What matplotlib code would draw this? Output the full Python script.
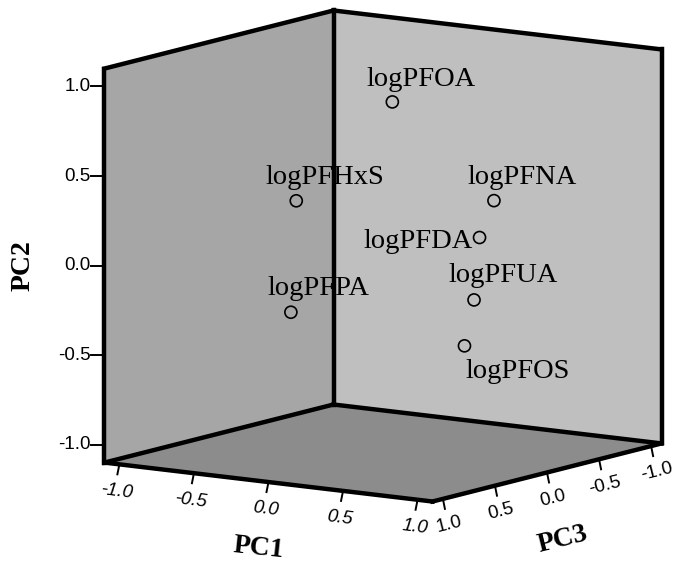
import numpy as np
import matplotlib
matplotlib.use("Agg")
import matplotlib.pyplot as plt
from matplotlib.patches import Polygon

# loadings (PC1, PC2, PC3)
variables = ["logPFOA", "logPFNA", "logPFDA", "logPFUA", "logPFOS", "logPFHxS", "logPFPA"]
pc1 = [0.30, 0.80, 0.85, 0.82, 0.70, -0.10, -0.15]
pc2 = [0.94, 0.40, 0.23, -0.12, -0.40, 0.40, -0.23]
pc3 = [0.34, 0.08, 0.29, 0.30, 0.22, 0.69, 0.67]

ticks = [-1.0, -0.5, 0.0, 0.5, 1.0]
tick_labels = ["-1.0", "-0.5", "0.0", "0.5", "1.0"]
axis_range = 1.1

# oblique view of the cube, in pixel units
ORIGIN = np.array([383.0, 256.0])
E1 = np.array([149.1, 17.7])     # PC1 direction
E2 = np.array([0.0, -179.1])     # PC2 direction
E3 = np.array([-104.1, 26.4])    # PC3 direction


def proj(a, b, c):
    p = ORIGIN + np.multiply.outer(a, E1) + np.multiply.outer(b, E2) + np.multiply.outer(c, E3)
    return p[..., 0], p[..., 1]


def pt(a, b, c):
    x, y = proj(a, b, c)
    return (float(x), float(y))


fig = plt.figure(figsize=(6.75, 5.67), dpi=100)
ax = fig.add_axes([0, 0, 1, 1])
ax.set_xlim(0, 675)
ax.set_ylim(567, 0)
ax.axis("off")

r = axis_range
left_top, left_bot = pt(-r, r, r), pt(-r, -r, r)
back_top, back_bot = pt(-r, r, -r), pt(-r, -r, -r)
right_top, right_bot = pt(r, r, -r), pt(r, -r, -r)
front_bot = pt(r, -r, r)

# walls and floor
ax.add_patch(Polygon([left_top, back_top, back_bot, left_bot], closed=True,
                     facecolor="#a6a6a6", edgecolor="none", zorder=1))
ax.add_patch(Polygon([back_top, right_top, right_bot, back_bot], closed=True,
                     facecolor="#bfbfbf", edgecolor="none", zorder=1))
ax.add_patch(Polygon([left_bot, back_bot, right_bot, front_bot], closed=True,
                     facecolor="#8c8c8c", edgecolor="none", zorder=1))

edges = [
    (left_top, back_top), (back_top, right_top),
    (left_top, left_bot), (back_top, back_bot), (right_top, right_bot),
    (left_bot, back_bot), (back_bot, right_bot),
    (left_bot, front_bot), (front_bot, right_bot),
]
for p, q in edges:
    ax.plot([p[0], q[0]], [p[1], q[1]], color="black", lw=3.2,
            solid_capstyle="projecting", zorder=3)

tick_font = dict(family="Liberation Sans", fontsize=13.5, color="black")

# PC2 axis on the left front edge
for t, lab in zip(ticks, tick_labels):
    x, y = pt(-r, t, r)
    ax.plot([x - 13, x], [y, y], color="black", lw=1.4, zorder=2)
    ax.text(x - 14, y, lab, ha="right", va="center", **tick_font)

# PC1 axis on the front-left floor edge
for t, lab in zip(ticks, tick_labels):
    x, y = pt(t, -r, r)
    ax.plot([x, x - 2], [y, y + 10], color="black", lw=1.4, zorder=2)
    ax.text(x - 3, y + 27, lab, ha="center", va="center", rotation=-7,
            style="italic", **tick_font)

# PC3 axis on the front-right floor edge
for t, lab in zip(ticks, tick_labels):
    x, y = pt(r, -r, t)
    ax.plot([x, x + 2], [y, y + 10], color="black", lw=1.4, zorder=2)
    ax.text(x + 6, y + 26, lab, ha="center", va="center", rotation=14,
            **tick_font)

label_font = dict(family="Liberation Serif", fontsize=20, fontweight="bold")
ax.text(23, 266, "PC2", rotation=90, ha="center", va="center", **label_font)
ax.text(259, 548, "PC1", rotation=-6, ha="center", va="center", **label_font)
ax.text(563, 540, "PC3", rotation=14, ha="center", va="center", **label_font)

# points
px, py = proj(np.array(pc1), np.array(pc2), np.array(pc3))
ax.scatter(px, py, s=75, facecolors="none", edgecolors="black",
           linewidths=1.2, zorder=4)

# label placement: (dx, dy, ha) in pixels from the point
label_offsets = {
    "logPFOA": (-26, -16, "left"),
    "logPFNA": (-26, -17, "left"),
    "logPFDA": (-7, 10, "right"),
    "logPFUA": (-26, -18, "left"),
    "logPFOS": (1, 32, "left"),
    "logPFHxS": (-31, -17, "left"),
    "logPFPA": (-23, -17, "left"),
}
for name, x, y in zip(variables, px, py):
    dx, dy, ha = label_offsets[name]
    ax.text(x + dx, y + dy, name, ha=ha, va="baseline",
            family="Liberation Serif", fontsize=20.5, zorder=5)

fig.savefig("out.png", dpi=100)
plt.close(fig)
